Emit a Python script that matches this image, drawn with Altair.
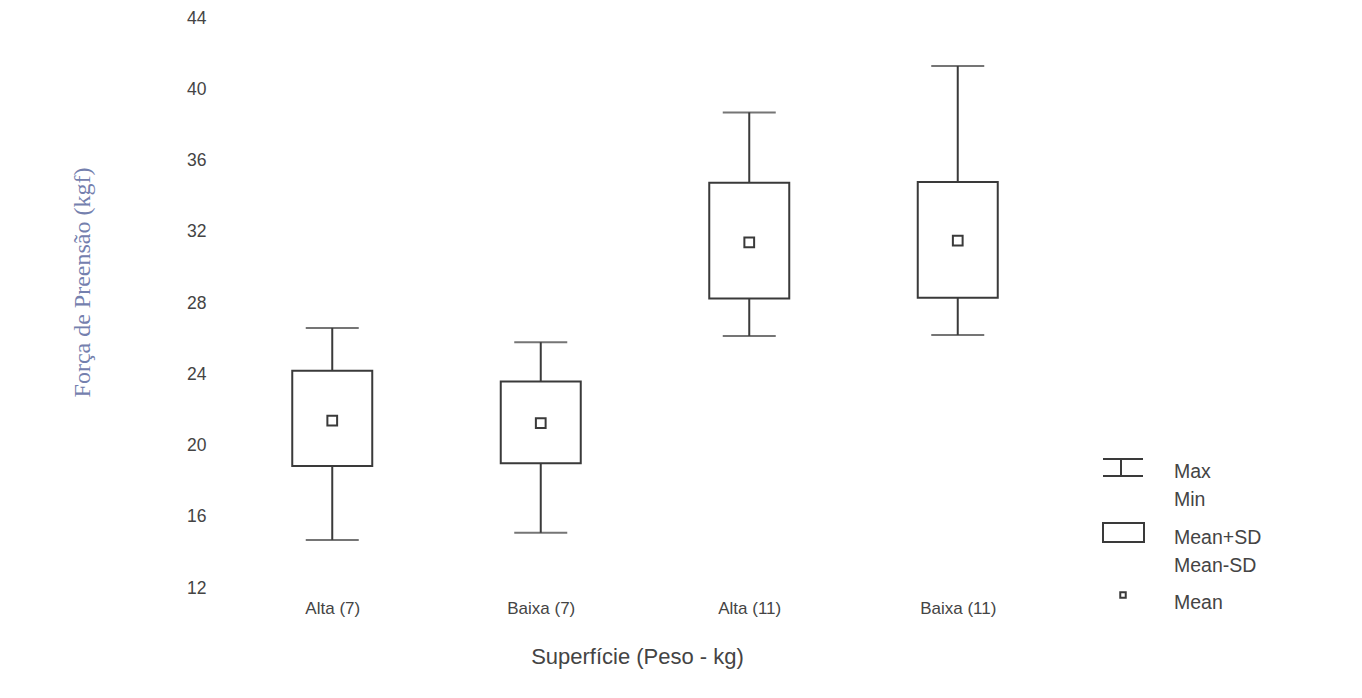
import altair as alt
import pandas as pd

categories = ["Alta (7)", "Baixa (7)", "Alta (11)", "Baixa (11)"]
max_vals = [26.6, 25.8, 38.7, 41.3]
min_vals = [14.7, 15.1, 26.15, 26.2]
sd_hi = [24.2, 23.6, 34.75, 34.8]
sd_lo = [18.85, 19.0, 28.25, 28.3]
means = [21.4, 21.25, 31.4, 31.5]
y_ticks = [12, 16, 20, 24, 28, 32, 36, 40, 44]
legend_labels = ["Max", "Min", "Mean+SD", "Mean-SD", "Mean"]

df = pd.DataFrame({
    "cat": categories, "max": max_vals, "min": min_vals,
    "hi": sd_hi, "lo": sd_lo, "mean": means,
})

INK = "#3a3a3a"
W, H = 834, 570

x = alt.X("cat:N", sort=categories,
          scale=alt.Scale(type="point", padding=0.5),
          axis=alt.Axis(title="Superfície (Peso - kg)", labelAngle=0, domain=False,
                        ticks=False, grid=False, labelFontSize=17, labelColor="#444",
                        labelFont="Liberation Sans", labelPadding=12,
                        titleFont="Liberation Sans", titleFontSize=22,
                        titleFontWeight="normal", titleColor="#444",
                        titleX=409, titleY=68, titleBaseline="middle", titleAlign="center"))
yscale = alt.Scale(domain=[12, 44], nice=False, zero=False)
yaxis = alt.Axis(title="Força de Preensão (kgf)", values=y_ticks, domain=False, ticks=False,
                 grid=False, labelFontSize=17.5, labelColor="#444", labelFont="Liberation Sans",
                 labelPadding=22, titleFont="Liberation Serif", titleFontSize=24,
                 titleFontWeight="normal", titleColor="#7480ae",
                 titleX=-146, titleY=264, titleAngle=-90, titleBaseline="middle",
                 titleAlign="center")

base = alt.Chart(df)
whisker = base.mark_rule(color=INK, strokeWidth=2).encode(
    x=x, y=alt.Y("min:Q", scale=yscale, axis=yaxis), y2="max:Q")
cap_top = base.mark_tick(color=INK, thickness=2, size=53, orient="horizontal").encode(
    x=x, y=alt.Y("max:Q", scale=yscale))
cap_bot = base.mark_tick(color=INK, thickness=2, size=53, orient="horizontal").encode(
    x=x, y=alt.Y("min:Q", scale=yscale))
box = base.mark_bar(width=80, fill="white", stroke=INK, strokeWidth=2).encode(
    x=x, y=alt.Y("lo:Q", scale=yscale), y2="hi:Q")
mean_pt = base.mark_point(shape="square", size=95, filled=False, color=INK,
                          strokeWidth=2, opacity=1).encode(
    x=x, y=alt.Y("mean:Q", scale=yscale))

one = alt.Chart(pd.DataFrame({"k": [0]}))
LX0, LX1, LXC = 875, 915, 895
leg = [
    one.mark_rule(color=INK, strokeWidth=2).encode(x=alt.value(LX0), x2=alt.value(LX1), y=alt.value(441)),
    one.mark_rule(color=INK, strokeWidth=2).encode(x=alt.value(LX0), x2=alt.value(LX1), y=alt.value(458)),
    one.mark_rule(color=INK, strokeWidth=2).encode(x=alt.value(LXC - 2), y=alt.value(441), y2=alt.value(458)),
    one.mark_rect(fill="white", stroke=INK, strokeWidth=2).encode(
        x=alt.value(LX0), x2=alt.value(LX1 + 1), y=alt.value(505), y2=alt.value(524)),
    one.mark_point(shape="square", size=30, filled=False, color=INK, strokeWidth=2, opacity=1).encode(
        x=alt.value(LXC), y=alt.value(577)),
]
label_y = [454, 482, 520, 548, 585]
for lab, ly in zip(legend_labels, label_y):
    leg.append(one.mark_text(align="left", baseline="middle", fontSize=19.5, color="#444",
                             font="Liberation Sans").encode(
        x=alt.value(946), y=alt.value(ly), text=alt.value(lab)))

chart = alt.layer(whisker, box, cap_top, cap_bot, mean_pt, *leg).properties(
    width=W, height=H,
    autosize=alt.AutoSizeParams(type="none"),
    padding={"left": 228, "top": 18, "right": 300, "bottom": 110},
    background="white",
).configure_view(stroke=None, strokeWidth=0)

chart.save("out.html", embed_options={"renderer": "svg", "actions": False})
